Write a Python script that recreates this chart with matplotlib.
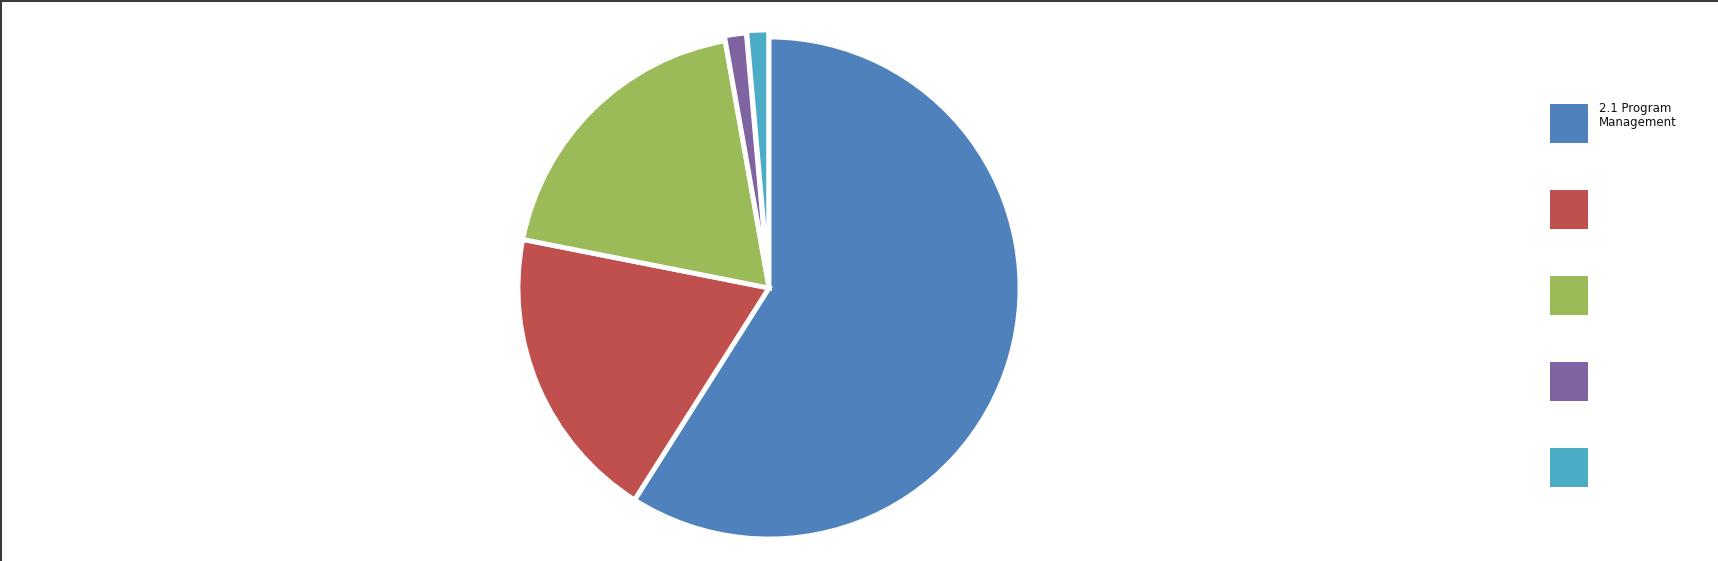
import matplotlib
matplotlib.use("Agg")
import matplotlib.pyplot as plt
from matplotlib.patches import Rectangle
from matplotlib.lines import Line2D

# Data
labels = ["2.1 Program\nManagement", "", "", "", ""]
values = [59.0, 19.1, 19.1, 1.4, 1.4]
colors = ["#4F81BD", "#C0504D", "#9BBB59", "#8064A2", "#4BACC6"]
explode = [0.0, 0.0, 0.0, 0.02, 0.028]

W, H = 1718, 561
fig = plt.figure(figsize=(W / 100, H / 100), dpi=100)
fig.patch.set_facecolor("white")

# Pie axes: center (769, 288), radius ~251 px
cx, cy, r = 769, 288, 251
ax = fig.add_axes([(cx - r) / W, (H - cy - r) / H, 2 * r / W, 2 * r / H])
ax.pie(values, colors=colors, startangle=90, counterclock=False, radius=1.0,
       explode=explode, wedgeprops=dict(edgecolor="white", linewidth=3.5))
ax.set_xlim(-1, 1)
ax.set_ylim(-1, 1)
ax.set_aspect("equal")
ax.axis("off")

# Legend drawn in its own axes (pixel coordinates)
lax = fig.add_axes([0, 0, 1, 1], facecolor="none")
lax.set_xlim(0, W)
lax.set_ylim(H, 0)
lax.axis("off")
x0, y0, sw, sh, step = 1550, 104, 38, 39, 86
for i, (lab, col) in enumerate(zip(labels, colors)):
    y = y0 + i * step
    lax.add_patch(Rectangle((x0, y), sw, sh, facecolor=col, edgecolor="none"))
    if lab:
        lax.text(x0 + 49, y - 2, lab, fontsize=8.5, va="top", ha="left",
                 color="#111111", linespacing=1.1, family="DejaVu Sans")

# Frame lines (top and left)
lax.add_line(Line2D([0, W], [0.5, 0.5], color="#3a3a3a", lw=1.5))
lax.add_line(Line2D([0.7, 0.7], [0, H], color="#3a3a3a", lw=1.5))

fig.savefig("out.png", dpi=100, facecolor="white")
